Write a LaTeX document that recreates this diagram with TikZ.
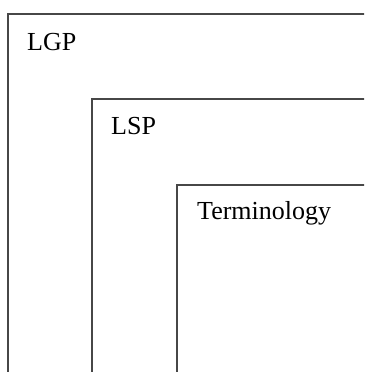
\documentclass[tikz,border=0pt]{standalone}
\usepackage{fontspec}
\setmainfont{Liberation Serif}
\begin{document}
\begin{tikzpicture}[x=1pt,y=-1pt,
	frame/.style = {draw=black!72, line width=2.6pt},
	label node/.style = {anchor=base west, inner sep=0pt, font=\fontsize{26}{30}\selectfont}]
	
	\useasboundingbox (0,0) rectangle (364,372);
	\clip (0,0) rectangle (364,372);
	
	\draw[frame] (8,380) -- (8,14) -- (370,14);
	\draw[frame] (92,380) -- (92,99) -- (370,99);
	\draw[frame] (177,380) -- (177,185) -- (370,185);
	
	\node[label node] (lgp) at (27,50) {LGP};
	\node[label node] (lsp) at (111,134) {LSP};
	\node[label node] (term) at (197,219) {Terminology};
	
\end{tikzpicture}
\end{document}
